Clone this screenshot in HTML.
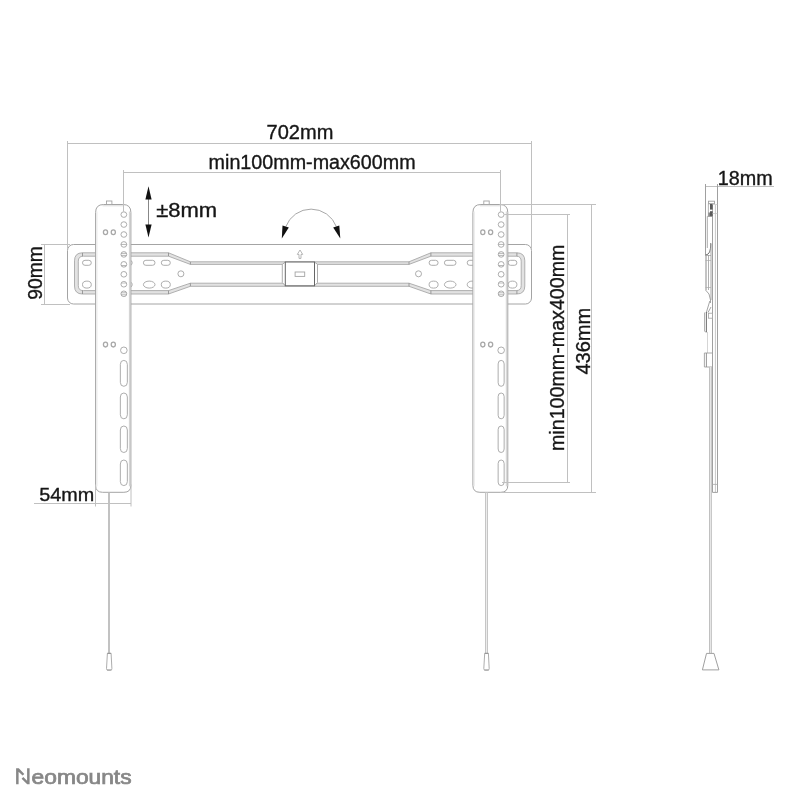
<!DOCTYPE html>
<html><head><meta charset="utf-8"><style>
html,body{margin:0;padding:0;background:#fff;}
svg{display:block;will-change:transform;}
text{font-family:"Liberation Sans",sans-serif;}
</style></head><body>
<svg width="800" height="800" viewBox="0 0 800 800">
<rect width="800" height="800" fill="#fff"/>
<text x="266.6" y="139.4" font-size="19.6" fill="#161616" stroke="#161616" stroke-width="0.35" textLength="66.8" lengthAdjust="spacingAndGlyphs">702mm</text>
<text x="208.6" y="168.8" font-size="19.6" fill="#161616" stroke="#161616" stroke-width="0.35" textLength="207" lengthAdjust="spacingAndGlyphs">min100mm-max600mm</text>
<text x="156.2" y="217.4" font-size="19.6" fill="#161616" stroke="#161616" stroke-width="0.35" textLength="61" lengthAdjust="spacingAndGlyphs">&#177;8mm</text>
<text x="41.8" y="299.8" font-size="19.6" fill="#161616" stroke="#161616" stroke-width="0.35" textLength="53.6" lengthAdjust="spacingAndGlyphs" transform="rotate(-90 41.8 299.8)">90mm</text>
<text x="39.3" y="501.3" font-size="19.1" fill="#161616" stroke="#161616" stroke-width="0.35" textLength="55" lengthAdjust="spacingAndGlyphs">54mm</text>
<text x="563.9" y="451" font-size="19.6" fill="#161616" stroke="#161616" stroke-width="0.35" textLength="206.5" lengthAdjust="spacingAndGlyphs" transform="rotate(-90 563.9 451)">min100mm-max400mm</text>
<text x="590.2" y="374.6" font-size="19.6" fill="#161616" stroke="#161616" stroke-width="0.35" textLength="66.8" lengthAdjust="spacingAndGlyphs" transform="rotate(-90 590.2 374.6)">436mm</text>
<text x="717.8" y="185.2" font-size="19.6" fill="#161616" stroke="#161616" stroke-width="0.35" textLength="55" lengthAdjust="spacingAndGlyphs">18mm</text>
<line x1="148.5" y1="195" x2="148.5" y2="228" stroke="#888" stroke-width="1"/>
<path d="M148.5 186.3 L151.6 199.4 L145.4 199.4 Z" fill="#111"/>
<path d="M148.5 237.5 L151.6 224.4 L145.4 224.4 Z" fill="#111"/>
<path d="M285.8 226.7 A27 27 0 0 1 336.4 226.7" fill="none" stroke="#a8a8a8" stroke-width="1"/>
<path d="M281.8 238.6 L282.5 225.6 L288.8 227.6 Z" fill="#111"/>
<path d="M340.3 238.6 L339.3 225.4 L333.2 227.6 Z" fill="#111"/>
<rect x="67.5" y="244.5" width="464" height="59.5" rx="6" fill="none" stroke="#a4a4a4" stroke-width="1"/>
<path d="M82.5 252.8 L168.5 252.8 L190.4 261.8 L409.0 261.8 L430.9 252.8 L516.8 252.8 Q524.8 252.8 524.8 260.8 L524.8 286 Q524.8 294 516.8 294 L430.9 294 L409.0 286.3 L190.4 286.3 L168.5 294 L82.5 294 Q74.5 294 74.5 286 L74.5 260.8 Q74.5 252.8 82.5 252.8 Z M83.3 256.2 L168.5 256.2 L190.4 264.4 L409.0 264.4 L430.9 256.2 L516.2 256.2 Q521.2 256.2 521.2 261.2 L521.2 285.6 Q521.2 290.6 516.2 290.6 L430.9 290.6 L409.0 283.2 L190.4 283.2 L168.5 290.6 L83.3 290.6 Q78.3 290.6 78.3 285.6 L78.3 261.2 Q78.3 256.2 83.3 256.2 Z" fill="#e2e2e2" fill-rule="evenodd" stroke="#a8a8a8" stroke-width="0.9"/>
<line x1="168.5" y1="252.8" x2="168.5" y2="256.2" stroke="#888" stroke-width="0.8"/>
<line x1="190.4" y1="261.8" x2="190.4" y2="264.4" stroke="#888" stroke-width="0.8"/>
<line x1="168.5" y1="290.6" x2="168.5" y2="294" stroke="#888" stroke-width="0.8"/>
<line x1="190.4" y1="283.2" x2="190.4" y2="286.3" stroke="#888" stroke-width="0.8"/>
<line x1="430.9" y1="252.8" x2="430.9" y2="256.2" stroke="#888" stroke-width="0.8"/>
<line x1="409.0" y1="261.8" x2="409.0" y2="264.4" stroke="#888" stroke-width="0.8"/>
<line x1="430.9" y1="290.6" x2="430.9" y2="294" stroke="#888" stroke-width="0.8"/>
<line x1="409.0" y1="283.2" x2="409.0" y2="286.3" stroke="#888" stroke-width="0.8"/>
<line x1="82.5" y1="252.8" x2="82.5" y2="256.2" stroke="#888" stroke-width="0.8"/>
<line x1="82.5" y1="290.6" x2="82.5" y2="294" stroke="#888" stroke-width="0.8"/>
<line x1="516.9" y1="252.8" x2="516.9" y2="256.2" stroke="#888" stroke-width="0.8"/>
<line x1="516.9" y1="290.6" x2="516.9" y2="294" stroke="#888" stroke-width="0.8"/>
<rect x="82.5" y="260.3" width="8.8" height="5.0" rx="2.5" ry="2.5" fill="none" stroke="#a4a4a4" stroke-width="0.9"/>
<ellipse cx="86.9" cy="284.6" rx="4.4" ry="3.5" fill="none" stroke="#a4a4a4" stroke-width="0.9"/>
<rect x="508.1" y="260.3" width="8.8" height="5.0" rx="2.5" ry="2.5" fill="none" stroke="#a4a4a4" stroke-width="0.9"/>
<ellipse cx="512.5" cy="284.6" rx="4.4" ry="3.5" fill="none" stroke="#a4a4a4" stroke-width="0.9"/>
<rect x="143.39999999999998" y="260.3" width="11.6" height="5.0" rx="2.5" ry="2.5" fill="none" stroke="#a4a4a4" stroke-width="0.9"/>
<ellipse cx="149.2" cy="284.6" rx="5.8" ry="3.5" fill="none" stroke="#a4a4a4" stroke-width="0.9"/>
<rect x="444.4" y="260.3" width="11.6" height="5.0" rx="2.5" ry="2.5" fill="none" stroke="#a4a4a4" stroke-width="0.9"/>
<ellipse cx="450.2" cy="284.6" rx="5.8" ry="3.5" fill="none" stroke="#a4a4a4" stroke-width="0.9"/>
<rect x="161.3" y="260.3" width="9.0" height="5.0" rx="2.5" ry="2.5" fill="none" stroke="#a4a4a4" stroke-width="0.9"/>
<ellipse cx="165.8" cy="284.6" rx="4.5" ry="3.5" fill="none" stroke="#a4a4a4" stroke-width="0.9"/>
<rect x="429.09999999999997" y="260.3" width="9.0" height="5.0" rx="2.5" ry="2.5" fill="none" stroke="#a4a4a4" stroke-width="0.9"/>
<ellipse cx="433.59999999999997" cy="284.6" rx="4.5" ry="3.5" fill="none" stroke="#a4a4a4" stroke-width="0.9"/>
<rect x="122.60000000000001" y="260.3" width="9.6" height="5.0" rx="2.5" ry="2.5" fill="none" stroke="#a4a4a4" stroke-width="0.9"/>
<ellipse cx="127.4" cy="284.6" rx="4.8" ry="3.5" fill="none" stroke="#a4a4a4" stroke-width="0.9"/>
<rect x="467.2" y="260.3" width="9.6" height="5.0" rx="2.5" ry="2.5" fill="none" stroke="#a4a4a4" stroke-width="0.9"/>
<ellipse cx="472.0" cy="284.6" rx="4.8" ry="3.5" fill="none" stroke="#a4a4a4" stroke-width="0.9"/>
<ellipse cx="180.9" cy="273.8" rx="3" ry="3" fill="none" stroke="#a4a4a4" stroke-width="0.9"/>
<ellipse cx="418.5" cy="273.8" rx="3" ry="3" fill="none" stroke="#a4a4a4" stroke-width="0.9"/>
<path d="M285.3 262 L282.3 264.4 L282.3 282.5 L285.3 285.8 M314.5 262 L317.5 264.4 L317.5 282.5 L314.5 285.8" fill="#fff" stroke="#a4a4a4" stroke-width="0.9"/>
<rect x="285.3" y="262" width="29.2" height="23.8" fill="#fff" stroke="#666" stroke-width="1"/>
<rect x="295.1" y="272" width="9.6" height="4.4" fill="none" stroke="#a4a4a4" stroke-width="0.9"/>
<path d="M300 250 L302.7 254.4 L301 254.4 L301 258.4 L299 258.4 L299 254.4 L297.3 254.4 Z" fill="none" stroke="#999" stroke-width="0.7"/>
<path d="M95.6 212.5 Q95.6 204.5 103.6 204.5 L122.89999999999998 204.5 Q130.89999999999998 204.5 130.89999999999998 212.5 L130.89999999999998 485.3 Q130.89999999999998 492.3 123.89999999999998 492.3 L102.6 492.3 Q95.6 492.3 95.6 485.3 Z" fill="#fff" stroke="#a4a4a4" stroke-width="1"/>
<line x1="96.89999999999999" y1="211.5" x2="96.89999999999999" y2="486.3" stroke="#e6e6e6" stroke-width="1"/>
<line x1="129.39999999999998" y1="211.5" x2="129.39999999999998" y2="486.3" stroke="#d0d0d0" stroke-width="1"/>
<line x1="102.6" y1="205.8" x2="123.89999999999998" y2="205.8" stroke="#dadada" stroke-width="1"/>
<rect x="106.5" y="201" width="5.4" height="3.5" fill="#fff" stroke="#a4a4a4" stroke-width="0.9"/>
<ellipse cx="123.85" cy="214.6" rx="2.9" ry="2.8" fill="none" stroke="#a4a4a4" stroke-width="0.9"/>
<ellipse cx="123.85" cy="224.54999999999998" rx="2.9" ry="2.8" fill="none" stroke="#a4a4a4" stroke-width="0.9"/>
<ellipse cx="123.85" cy="234.5" rx="2.9" ry="2.8" fill="none" stroke="#a4a4a4" stroke-width="0.9"/>
<ellipse cx="123.85" cy="244.45" rx="2.9" ry="2.8" fill="none" stroke="#a4a4a4" stroke-width="0.9"/>
<line x1="120.94999999999999" y1="244.45" x2="126.75" y2="244.45" stroke="#999" stroke-width="0.7"/>
<ellipse cx="123.85" cy="254.39999999999998" rx="2.9" ry="2.8" fill="none" stroke="#a4a4a4" stroke-width="0.9"/>
<line x1="121.14999999999999" y1="253.39999999999998" x2="126.55" y2="253.39999999999998" stroke="#999" stroke-width="0.7"/>
<line x1="121.14999999999999" y1="255.39999999999998" x2="126.55" y2="255.39999999999998" stroke="#999" stroke-width="0.7"/>
<ellipse cx="123.85" cy="264.35" rx="2.9" ry="2.8" fill="none" stroke="#a4a4a4" stroke-width="0.9"/>
<line x1="121.25" y1="265.55" x2="126.44999999999999" y2="265.55" stroke="#999" stroke-width="0.7"/>
<ellipse cx="123.85" cy="274.3" rx="2.9" ry="2.8" fill="none" stroke="#a4a4a4" stroke-width="0.9"/>
<ellipse cx="123.85" cy="284.25" rx="2.9" ry="2.8" fill="none" stroke="#a4a4a4" stroke-width="0.9"/>
<line x1="121.25" y1="283.05" x2="126.44999999999999" y2="283.05" stroke="#aaa" stroke-width="0.7"/>
<ellipse cx="123.85" cy="293.8" rx="2.9" ry="2.8" fill="none" stroke="#a4a4a4" stroke-width="0.9"/>
<line x1="121.14999999999999" y1="292.8" x2="126.55" y2="292.8" stroke="#999" stroke-width="0.7"/>
<line x1="121.14999999999999" y1="294.8" x2="126.55" y2="294.8" stroke="#999" stroke-width="0.7"/>
<ellipse cx="105.5" cy="232.3" rx="2.1" ry="2.4" fill="none" stroke="#a8a8a8" stroke-width="1.3"/>
<ellipse cx="113.3" cy="232.3" rx="2.1" ry="2.4" fill="none" stroke="#a8a8a8" stroke-width="1.3"/>
<ellipse cx="105.5" cy="344.6" rx="2.1" ry="2.4" fill="none" stroke="#a8a8a8" stroke-width="1.3"/>
<ellipse cx="113.3" cy="344.6" rx="2.1" ry="2.4" fill="none" stroke="#a8a8a8" stroke-width="1.3"/>
<ellipse cx="123.85" cy="350.3" rx="3.3" ry="3.3" fill="none" stroke="#a4a4a4" stroke-width="0.9"/>
<rect x="120.35" y="360.4" width="7" height="25.900000000000034" rx="3.5" ry="4.0" fill="none" stroke="#a4a4a4" stroke-width="0.9"/>
<rect x="120.35" y="393" width="7" height="25.80000000000001" rx="3.5" ry="4.0" fill="none" stroke="#a4a4a4" stroke-width="0.9"/>
<rect x="120.35" y="426" width="7" height="26.5" rx="3.5" ry="4.0" fill="none" stroke="#a4a4a4" stroke-width="0.9"/>
<rect x="120.35" y="460" width="7" height="25.600000000000023" rx="3.5" ry="4.0" fill="none" stroke="#a4a4a4" stroke-width="0.9"/>
<rect x="108" y="492.8" width="2" height="160.2" fill="#c2c2c2"/>
<path d="M107.39999999999999 653.4 L111.1 653.4 L111.89999999999999 668.6 Q111.89999999999999 670.2 110.6 670.2 L107.79999999999998 670.2 Q106.49999999999999 670.2 106.49999999999999 668.6 Z" fill="#fff" stroke="#a4a4a4" stroke-width="0.9"/>
<rect x="107.39999999999999" y="652.8" width="3.7" height="1.2" fill="#999"/>
<rect x="106.99999999999999" y="669.4" width="4.4" height="1.2" fill="#aaa"/>
<path d="M472.9 212.5 Q472.9 204.5 480.9 204.5 L499.79999999999995 204.5 Q507.79999999999995 204.5 507.79999999999995 212.5 L507.79999999999995 485.3 Q507.79999999999995 492.3 500.79999999999995 492.3 L479.9 492.3 Q472.9 492.3 472.9 485.3 Z" fill="#fff" stroke="#a4a4a4" stroke-width="1"/>
<line x1="474.2" y1="211.5" x2="474.2" y2="486.3" stroke="#e6e6e6" stroke-width="1"/>
<line x1="506.29999999999995" y1="211.5" x2="506.29999999999995" y2="486.3" stroke="#d0d0d0" stroke-width="1"/>
<line x1="479.9" y1="205.8" x2="500.79999999999995" y2="205.8" stroke="#dadada" stroke-width="1"/>
<rect x="483.79999999999995" y="201" width="5.4" height="3.5" fill="#fff" stroke="#a4a4a4" stroke-width="0.9"/>
<ellipse cx="501.15" cy="214.6" rx="2.9" ry="2.8" fill="none" stroke="#a4a4a4" stroke-width="0.9"/>
<ellipse cx="501.15" cy="224.54999999999998" rx="2.9" ry="2.8" fill="none" stroke="#a4a4a4" stroke-width="0.9"/>
<ellipse cx="501.15" cy="234.5" rx="2.9" ry="2.8" fill="none" stroke="#a4a4a4" stroke-width="0.9"/>
<ellipse cx="501.15" cy="244.45" rx="2.9" ry="2.8" fill="none" stroke="#a4a4a4" stroke-width="0.9"/>
<line x1="498.25" y1="244.45" x2="504.04999999999995" y2="244.45" stroke="#999" stroke-width="0.7"/>
<ellipse cx="501.15" cy="254.39999999999998" rx="2.9" ry="2.8" fill="none" stroke="#a4a4a4" stroke-width="0.9"/>
<line x1="498.45" y1="253.39999999999998" x2="503.84999999999997" y2="253.39999999999998" stroke="#999" stroke-width="0.7"/>
<line x1="498.45" y1="255.39999999999998" x2="503.84999999999997" y2="255.39999999999998" stroke="#999" stroke-width="0.7"/>
<ellipse cx="501.15" cy="264.35" rx="2.9" ry="2.8" fill="none" stroke="#a4a4a4" stroke-width="0.9"/>
<line x1="498.54999999999995" y1="265.55" x2="503.75" y2="265.55" stroke="#999" stroke-width="0.7"/>
<ellipse cx="501.15" cy="274.3" rx="2.9" ry="2.8" fill="none" stroke="#a4a4a4" stroke-width="0.9"/>
<ellipse cx="501.15" cy="284.25" rx="2.9" ry="2.8" fill="none" stroke="#a4a4a4" stroke-width="0.9"/>
<line x1="498.54999999999995" y1="283.05" x2="503.75" y2="283.05" stroke="#aaa" stroke-width="0.7"/>
<ellipse cx="501.15" cy="293.8" rx="2.9" ry="2.8" fill="none" stroke="#a4a4a4" stroke-width="0.9"/>
<line x1="498.45" y1="292.8" x2="503.84999999999997" y2="292.8" stroke="#999" stroke-width="0.7"/>
<line x1="498.45" y1="294.8" x2="503.84999999999997" y2="294.8" stroke="#999" stroke-width="0.7"/>
<ellipse cx="482.79999999999995" cy="232.3" rx="2.1" ry="2.4" fill="none" stroke="#a8a8a8" stroke-width="1.3"/>
<ellipse cx="490.59999999999997" cy="232.3" rx="2.1" ry="2.4" fill="none" stroke="#a8a8a8" stroke-width="1.3"/>
<ellipse cx="482.79999999999995" cy="344.6" rx="2.1" ry="2.4" fill="none" stroke="#a8a8a8" stroke-width="1.3"/>
<ellipse cx="490.59999999999997" cy="344.6" rx="2.1" ry="2.4" fill="none" stroke="#a8a8a8" stroke-width="1.3"/>
<ellipse cx="501.15" cy="350.3" rx="3.3" ry="3.3" fill="none" stroke="#a4a4a4" stroke-width="0.9"/>
<rect x="498.15" y="360.4" width="6" height="25.900000000000034" rx="3.0" ry="3.5" fill="none" stroke="#a4a4a4" stroke-width="0.9"/>
<rect x="498.15" y="393" width="6" height="25.80000000000001" rx="3.0" ry="3.5" fill="none" stroke="#a4a4a4" stroke-width="0.9"/>
<rect x="498.15" y="426" width="6" height="26.5" rx="3.0" ry="3.5" fill="none" stroke="#a4a4a4" stroke-width="0.9"/>
<rect x="498.15" y="460" width="6" height="25.600000000000023" rx="3.0" ry="3.5" fill="none" stroke="#a4a4a4" stroke-width="0.9"/>
<rect x="485" y="492.8" width="3" height="160.2" fill="#ececec"/>
<rect x="485" y="492.8" width="1" height="160.2" fill="#c6c6c6"/>
<rect x="487" y="492.8" width="1" height="160.2" fill="#c6c6c6"/>
<path d="M484.7 653.4 L488.4 653.4 L489.2 668.6 Q489.2 670.2 487.9 670.2 L485.1 670.2 Q483.8 670.2 483.8 668.6 Z" fill="#fff" stroke="#a4a4a4" stroke-width="0.9"/>
<rect x="484.7" y="652.8" width="3.7" height="1.2" fill="#999"/>
<rect x="484.3" y="669.4" width="4.4" height="1.2" fill="#aaa"/>
<line x1="67" y1="143.5" x2="532" y2="143.5" stroke="#c0c0c0" stroke-width="1"/>
<line x1="67.5" y1="141" x2="67.5" y2="249" stroke="#c0c0c0" stroke-width="1"/>
<line x1="531.5" y1="141" x2="531.5" y2="249" stroke="#c0c0c0" stroke-width="1"/>
<line x1="123" y1="172.5" x2="501" y2="172.5" stroke="#c0c0c0" stroke-width="1"/>
<line x1="123.5" y1="170" x2="123.5" y2="211.8" stroke="#c0c0c0" stroke-width="1"/>
<line x1="500.5" y1="170" x2="500.5" y2="211.8" stroke="#c0c0c0" stroke-width="1"/>
<line x1="44.5" y1="244" x2="44.5" y2="305" stroke="#c0c0c0" stroke-width="1"/>
<line x1="41" y1="244.5" x2="70" y2="244.5" stroke="#c0c0c0" stroke-width="1"/>
<line x1="41" y1="304.5" x2="70" y2="304.5" stroke="#c0c0c0" stroke-width="1"/>
<line x1="34" y1="503.5" x2="131" y2="503.5" stroke="#c0c0c0" stroke-width="1"/>
<line x1="95.5" y1="484.5" x2="95.5" y2="506.5" stroke="#c0c0c0" stroke-width="1"/>
<line x1="131" y1="484.5" x2="131" y2="506.5" stroke="#c0c0c0" stroke-width="1"/>
<line x1="567.5" y1="214" x2="567.5" y2="482.5" stroke="#c0c0c0" stroke-width="1"/>
<line x1="504.2" y1="214.5" x2="570" y2="214.5" stroke="#c0c0c0" stroke-width="1"/>
<line x1="502" y1="482.5" x2="570" y2="482.5" stroke="#c0c0c0" stroke-width="1"/>
<line x1="591.5" y1="204" x2="591.5" y2="493" stroke="#c0c0c0" stroke-width="1"/>
<line x1="501" y1="204.5" x2="596" y2="204.5" stroke="#c0c0c0" stroke-width="1"/>
<line x1="501" y1="492.5" x2="596" y2="492.5" stroke="#c0c0c0" stroke-width="1"/>
<line x1="705" y1="186.5" x2="774" y2="186.5" stroke="#c0c0c0" stroke-width="1"/>
<line x1="705.5" y1="184" x2="705.5" y2="256" stroke="#a0a0a0" stroke-width="1"/>
<line x1="717.5" y1="184" x2="717.5" y2="492.4" stroke="#a0a0a0" stroke-width="1"/>
<line x1="715.4" y1="205" x2="715.4" y2="492.4" stroke="#c8c8c8" stroke-width="1"/>
<line x1="712.5" y1="216" x2="712.5" y2="492.4" stroke="#a0a0a0" stroke-width="1"/>
<rect x="708.5" y="201.2" width="6" height="2.5" fill="#fff" stroke="#a0a0a0" stroke-width="0.9"/>
<rect x="708.3" y="203.8" width="4.3" height="12.5" fill="#fff" stroke="#a0a0a0" stroke-width="0.8"/>
<rect x="710" y="204" width="2.7" height="5.6" fill="#5a5a5a"/>
<rect x="710" y="211.2" width="2.7" height="5.2" fill="#5a5a5a"/>
<rect x="708.3" y="212.5" width="1.7" height="3.9" fill="#8a8a8a"/>
<line x1="712.5" y1="204.5" x2="717.5" y2="204.5" stroke="#c4c4c4" stroke-width="0.7"/>
<line x1="712.5" y1="213.5" x2="717.5" y2="213.5" stroke="#c4c4c4" stroke-width="0.7"/>
<path d="M712.5 216.4 L707.3 216.4 L707.3 248" fill="none" stroke="#a0a0a0" stroke-width="0.9"/>
<path d="M710.8 243 Q710.8 249 709.6 252 Q708.5 254.8 705.5 255" fill="none" stroke="#777" stroke-width="1"/>
<line x1="708.5" y1="255" x2="708.5" y2="290" stroke="#a8a8a8" stroke-width="0.9"/>
<line x1="706" y1="255" x2="706" y2="290" stroke="#b0b0b0" stroke-width="1.5"/>
<line x1="711" y1="244" x2="711" y2="300" stroke="#9a9a9a" stroke-width="0.9"/>
<line x1="705.5" y1="255.5" x2="711" y2="255.5" stroke="#999" stroke-width="0.7"/>
<line x1="705.5" y1="260.5" x2="711" y2="260.5" stroke="#aaa" stroke-width="0.7"/>
<line x1="705.5" y1="287.5" x2="711" y2="287.5" stroke="#aaa" stroke-width="0.7"/>
<path d="M705.5 290 L709 294 L710.5 300 L710.5 303 M709.8 301 L706.2 313 M711 307 L708 312.5" fill="none" stroke="#9a9a9a" stroke-width="0.9"/>
<rect x="708.6" y="313.2" width="3.8" height="5" fill="#fff" stroke="#a0a0a0" stroke-width="0.8"/>
<path d="M704.6 312.5 L704.6 331 Q705 332.5 707 332" fill="none" stroke="#a0a0a0" stroke-width="0.9"/>
<line x1="706.4" y1="312" x2="706.4" y2="332" stroke="#707070" stroke-width="1"/>
<line x1="707.5" y1="332" x2="707.5" y2="353" stroke="#d0d0d0" stroke-width="0.9"/>
<path d="M712.4 353 L704.4 353 L704.4 367 L712.4 367" fill="none" stroke="#a0a0a0" stroke-width="0.9"/>
<line x1="706.4" y1="353" x2="706.4" y2="367" stroke="#8a8a8a" stroke-width="0.9"/>
<line x1="712.5" y1="492.4" x2="717.5" y2="492.4" stroke="#a0a0a0" stroke-width="1"/>
<line x1="712.5" y1="484.4" x2="717.5" y2="484.4" stroke="#a8a8a8" stroke-width="0.8"/>
<rect x="709" y="367" width="3" height="286.4" fill="#e6e6e6"/>
<line x1="709.5" y1="367" x2="709.5" y2="653.4" stroke="#c0c0c0" stroke-width="1"/>
<line x1="711.5" y1="367" x2="711.5" y2="653.4" stroke="#c8c8c8" stroke-width="1"/>
<path d="M706.5 653.4 L714 653.4 L718.9 669.9 L702.4 669.9 Z" fill="#fff" stroke="#a0a0a0" stroke-width="1"/>
<path d="M16.1 768.3 H18.6 V784.2 H16.1 Z M27.1 768.3 H29.6 V784.2 H27.1 Z M16.1 768.3 H18.8 L24.3 773.9 L22.6 775.6 L16.1 769.4 Z M21.6 778.7 L23.3 777 L29.6 783.2 V784.2 H27.2 Z" fill="#878787"/>
<text x="31.6" y="784.3" font-size="19.6" fill="#878787" stroke="#878787" stroke-width="0.7" textLength="100" lengthAdjust="spacingAndGlyphs">eomounts</text>
</svg>
</body></html>
